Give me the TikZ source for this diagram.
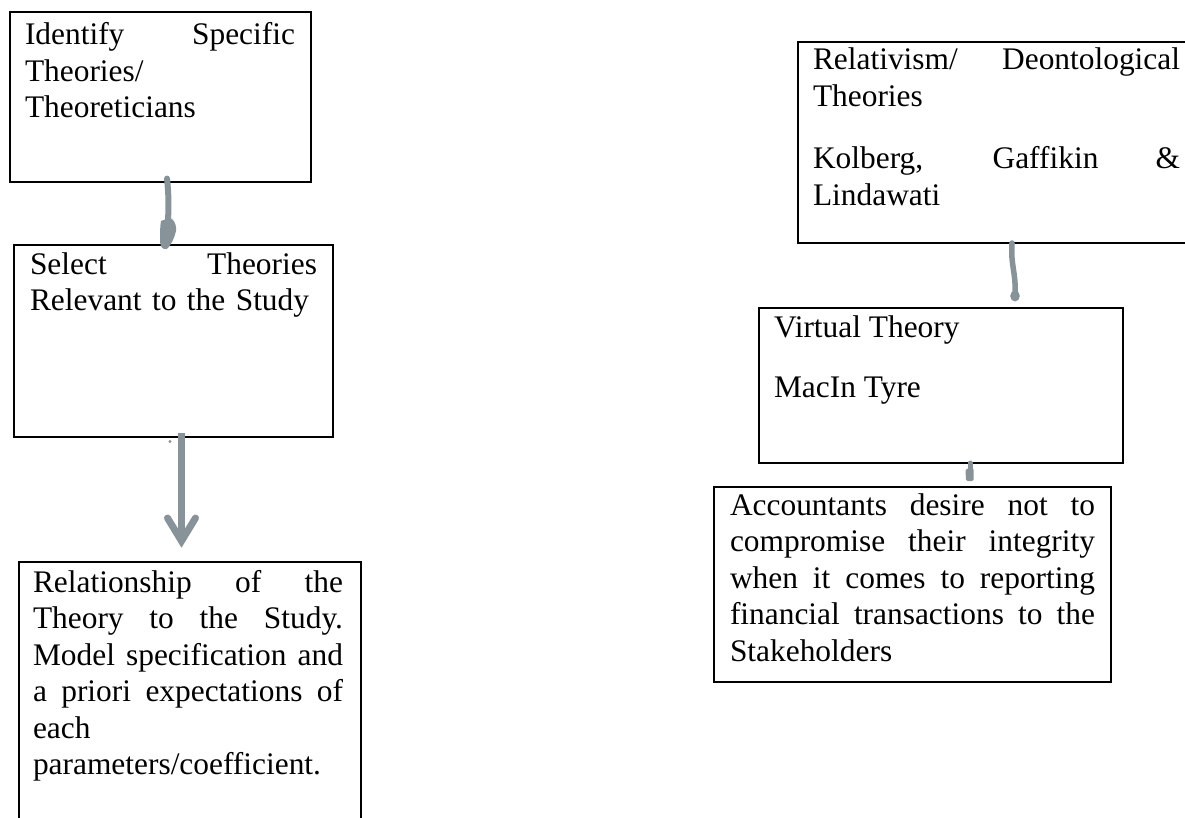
\documentclass[tikz,border=0pt]{standalone}
\usepackage{fontspec}
\setmainfont{Liberation Serif}
\usetikzlibrary{calc}
\definecolor{conngray}{RGB}{135,147,153}
\tikzset{
  box/.style={draw=black, line width=2pt, inner sep=0pt, rectangle},
  txt/.style={anchor=base west, inner sep=0pt, outer sep=0pt, align=left,
              font=\fontsize{31.4}{36.5}\selectfont},
  conn/.style={draw=conngray, line width=6pt, line cap=round},
  blob/.style={fill=conngray, draw=none},
}
\newcommand{\jline}[2]{\leavevmode\hbox to #1pt{\spaceskip=\fontdimen2\font plus 1fil\relax #2}}
\begin{document}
\begin{tikzpicture}[x=1pt,y=-1pt]
\useasboundingbox (0,0) rectangle (1185,818);
\clip (0,0) rectangle (1185,818);

% boxes
\node[box, minimum width=301pt, minimum height=170pt] (A) at (160.5,97.5) {};
\node[box, minimum width=319pt, minimum height=192pt] (B) at (173.5,341) {};
\node[box, minimum width=342pt, minimum height=280pt] (C) at (190,702) {};
\node[box, minimum width=397pt, minimum height=201pt] (D) at (996.5,142.5) {};
\node[box, minimum width=364pt, minimum height=155pt] (E) at (941,385.5) {};
\node[box, minimum width=397pt, minimum height=195pt] (F) at (912.5,584.5) {};

% texts
\node[txt, text width=270pt] (tA) at (25,45)
  {\jline{270}{Identify Specific}\\Theories/\\Theoreticians};
\node[txt, text width=287pt] (tB) at (30,274)
  {\jline{287}{Select Theories}\\Relevant to the Study};
\node[txt, text width=310pt] (tC) at (33,592)
  {\jline{310}{Relationship of the}\\\jline{310}{Theory to the Study.}\\
   \jline{310}{Model specification and}\\\jline{310}{a priori expectations of}\\
   each\\parameters/coefficient.};
\node[txt, text width=367pt] (tD1) at (813,70)
  {\jline{367}{Relativism/ Deontological}\\Theories};
\node[txt, text width=367pt] (tD2) at (813,169)
  {\jline{367}{Kolberg, Gaffikin \&}\\Lindawati};
\node[txt] (tE1) at (774,337) {Virtual Theory};
\node[txt] (tE2) at (774,397) {MacIn Tyre};
\node[txt, text width=365pt] (tF) at (730,515)
  {\jline{365}{Accountants desire not to}\\\jline{365}{compromise their integrity}\\
   \jline{365}{when it comes to reporting}\\\jline{365}{financial transactions to the}\\
   Stakeholders};

% connector A -> B (hand drawn, blob head)
\draw[conn] ($(A.south)+(6.5,-5)$) .. controls ($(A.south)+(8.5,15)$) and ($(B.north)+(-5,-40)$) .. ($(B.north)+(-5.5,-20)$);
\fill[blob, shift={(B.north)}] (-12.5,-23) .. controls (-8,-25) and (-4,-26) .. (-1.5,-25)
  .. controls (2,-22) and (3,-17) .. (2.5,-13)
  .. controls (1,-6) and (-2,-1) .. (-4,2)
  .. controls (-6,5) and (-8,6) .. (-9.5,5)
  .. controls (-12,4) and (-13.5,1) .. (-13.5,-4)
  .. controls (-13.5,-10) and (-13.5,-18) .. cycle;

% connector B -> C (straight arrow)
\draw[draw=conngray, line width=7pt] ($(B.south)+(8,-5)$) -- ($(C.north)+(-8.5,-22)$);
\draw[draw=conngray, line width=7pt, line cap=round, line join=miter]
  ($(C.north)+(-22.5,-43)$) -- ($(C.north)+(-8.5,-20)$) -- ($(C.north)+(5.5,-43)$);
\fill[conngray] ($(B.south)+(-3.5,3.5)$) circle (1.6pt);

% connector D -> E
\draw[conn, line width=5.5pt] ($(D.south)+(15.5,-1)$) .. controls ($(D.south)+(14,22)$) and ($(E.north)+(75,-35)$) .. ($(E.north)+(74,-14)$);
\fill[blob] ($(E.north)+(74,-11)$) ellipse (4.8pt and 5.5pt);

% connector E -> F
\draw[conn, line width=5pt] ($(E.south)+(29,-1)$) -- ($(E.south)+(29,6)$);
\fill[blob, rounded corners=1.5pt] ($(E.south)+(24.5,5)$) -- ($(E.south)+(32.5,4)$)
  -- ($(F.north)+(61,-5)$) -- ($(F.north)+(53.5,-5)$) -- cycle;
\end{tikzpicture}
\end{document}
